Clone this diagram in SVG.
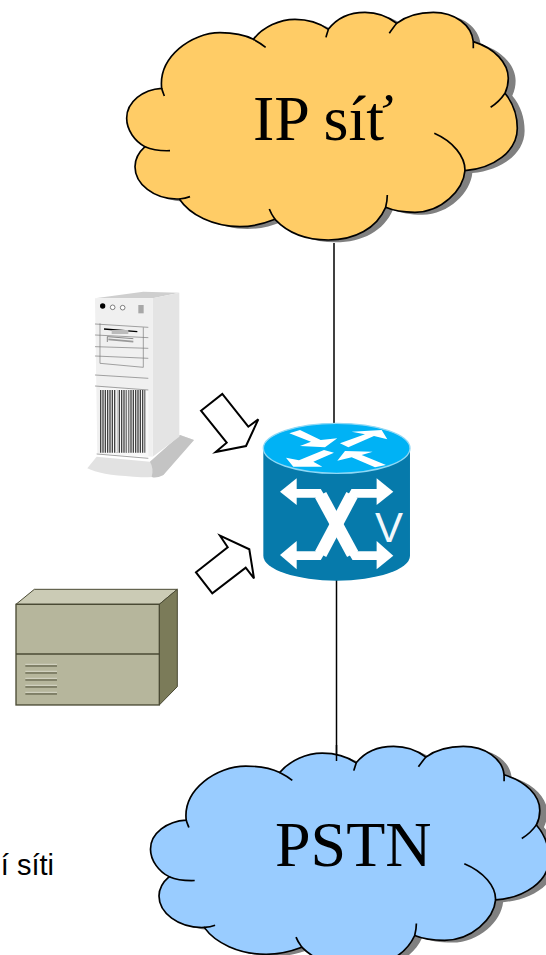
<svg xmlns="http://www.w3.org/2000/svg" xmlns:xlink="http://www.w3.org/1999/xlink" width="546" height="955" viewBox="0 0 546 955">
<style>
.serif{font-family:"Liberation Serif","Times New Roman",serif;font-size:64px;fill:#000}
.sans{font-family:"Liberation Sans",Arial,sans-serif}
.ln{stroke:#000;stroke-width:1.5;fill:none}
.out{stroke:#000;stroke-width:5;fill:none;stroke-linejoin:round}
.arrow{fill:#fff;stroke:#000;stroke-width:2;stroke-linejoin:miter}
.vent{stroke:#4d4d36;stroke-width:3}
.ventl{stroke:#e8e8dc;stroke-width:2}
.srv{stroke:#777;stroke-width:2;fill:none}
</style>
<defs>
<path id="cloudshape" d="M125,265C115,170 215,98 300,98C340,98 375,105 400,118C430,80 480,58 525,58C565,58 600,70 625,88C650,55 690,37 735,37C770,37 805,50 830,70C860,47 900,37 940,37C1005,37 1055,75 1060,125C1125,145 1165,190 1165,235C1165,250 1162,265 1155,280C1180,310 1192,345 1192,385C1192,455 1120,505 1035,512C1030,570 965,637 885,637C850,637 820,632 797,622C770,685 705,720 625,720C555,720 500,695 465,658C430,672 395,680 360,680C280,680 210,645 178,597C100,600 45,550 45,500C45,478 55,458 75,440C45,425 20,390 20,355C20,305 70,268 125,265Z"/>
<path id="hooks" d="M125,265C127,273 130,280 133,288M400,118C413,125 426,133 437,142M625,88C623,96 620,104 618,112M830,70C822,80 815,90 808,100M1060,125L1060,145M1155,280C1143,298 1128,312 1112,322M1035,512C1036,470 1000,425 943,400M797,622C800,610 802,598 802,585M465,658C458,648 452,638 448,627M178,597C190,596 200,594 210,590M75,440C97,450 122,453 150,452"/>
</defs>
<g id="connectors">
<line class="ln" x1="334" y1="243" x2="334" y2="424"/>
<line class="ln" x1="336.500" y1="580" x2="336.500" y2="761"/>
</g>
<g id="cloud-ip">
<g transform="translate(120,0) scale(0.3333)">
<use xlink:href="#cloudshape" href="#cloudshape" fill="#808080" transform="translate(22,7)"/>
<use xlink:href="#cloudshape" href="#cloudshape" fill="#ffcc66" stroke="#000" stroke-width="5"/>
<use xlink:href="#hooks" href="#hooks" class="out"/>
</g>
<text class="serif" x="253" y="140">IP síť</text>
</g>
<g id="cloud-pstn">
<g transform="matrix(0.34 0 0 0.3233 143.700 734.400)">
<use xlink:href="#cloudshape" href="#cloudshape" fill="#808080" transform="translate(22,7)"/>
<use xlink:href="#cloudshape" href="#cloudshape" fill="#99ccff" stroke="#000" stroke-width="5"/>
<use xlink:href="#hooks" href="#hooks" class="out"/>
</g>
<line class="ln" x1="336.500" y1="745" x2="336.500" y2="761"/>
<text class="serif" x="275" y="866">PSTN</text>
</g>
<g id="server" transform="translate(80,280) scale(0.3333)">
<path d="M22,565L50,530L210,545L300,465L342,480L250,585Q235,595 160,590Q60,585 22,565Z" fill="#e2e2e2"/>
<path d="M210,545L300,465L342,480L250,585Q225,597 215,590Q222,565 210,545Z" fill="#c4c4c4"/>
<path d="M45,55L190,35L298,38L218,55Z" fill="#cfcfcf"/>
<path d="M218,55L298,38L298,470L218,530Z" fill="#e4e4e4"/>
<path d="M45,55L218,55L218,530L52,520Z" fill="#f0f0f0"/>
<path d="M60,322L205,330L205,530L60,518Z" fill="#f8f8f8"/>
<line x1="60" y1="424" x2="196" y2="424" stroke="#444" stroke-width="188" stroke-dasharray="4,3"/>
<rect x="108" y="328" width="5" height="190" fill="#eee"/>
<rect x="140" y="328" width="5" height="190" fill="#eee"/>
<path class="srv" d="M45,318L205,330M45,285L205,295M45,132L205,142M45,165L205,173M45,200L205,205M45,228L205,235M60,130V250L190,262V142M50,522L205,535"/>
<circle cx="68" cy="78" r="8" fill="#000"/>
<circle cx="98" cy="82" r="7" fill="#fff" stroke="#444" stroke-width="2"/>
<circle cx="128" cy="83" r="7" fill="#fff" stroke="#444" stroke-width="2"/>
<rect x="175" y="75" width="16" height="25" fill="#a8a8a8"/>
<path d="M72,147L172,155" stroke="#000" stroke-width="4"/>
<rect x="95" y="150" width="50" height="12" fill="#bbb"/>
<path d="M82,186V170L160,176" fill="none" stroke="#555" stroke-width="2"/>
<path d="M85,178L160,185" stroke="#999" stroke-width="5"/>
</g>
<g id="arrow-server">
<polygon class="arrow" points="201,410.700 222.300,394 248.300,426.700 258.300,419.300 246,446 215.700,452 226.700,442.700"/>
</g>
<g id="arrow-box">
<polygon class="arrow" points="196,572.300 227.700,547.300 220,535.700 249.300,549.300 254,578.300 245.700,567.700 212.300,593.300"/>
</g>
<g id="router" transform="translate(250,410) scale(0.3333)">
<path d="M40,115V437A220,75 0 0 0 480,437V115Z" fill="#067aab"/>
<ellipse cx="260" cy="115" rx="220" ry="75" fill="#00b2f5" stroke="#8fd8f5" stroke-width="4"/>
<g fill="#fff">
<polygon points="118,70 150,60 212,90 262,85 225,112 150,108 183,95"/>
<polygon points="270,100 345,73 305,65 395,60 412,88 372,78 295,112"/>
<polygon points="252,128 190,155 217,170 130,170 108,143 147,151 222,120"/>
<polygon points="262,152 285,123 368,125 335,135 408,165 375,172 305,142"/>
<polygon points="90,245 140,205 140,285"/>
<polygon points="430,245 380,205 380,285"/>
<polygon points="90,435 140,393 140,478"/>
<polygon points="430,437 380,393 380,478"/>
</g>
<g fill="none" stroke="#fff" stroke-width="26" stroke-linejoin="miter">
<polyline points="130,250 205,250 315,437 390,437"/>
<polyline points="390,250 312,250 205,437 130,437"/>
<line x1="212" y1="255" x2="308" y2="432" stroke-width="38"/>
<line x1="306" y1="255" x2="212" y2="432" stroke-width="38"/>
</g>
<text class="sans" x="375" y="395" font-size="126" fill="#f2f8fb">V</text>
</g>
<g id="box" transform="translate(0,530) scale(0.3333)">
<polygon points="48,223 103,178 532,178 478,223" fill="#cbcbb5" stroke="#4a4a34" stroke-width="3"/>
<polygon points="478,223 532,178 532,470 478,525" fill="#7b7b59" stroke="#4a4a34" stroke-width="3"/>
<rect x="48" y="223" width="430" height="302" fill="#b6b69c" stroke="#4a4a34" stroke-width="4"/>
<line x1="48" y1="372" x2="478" y2="372" stroke="#4a4a34" stroke-width="5"/>
<path class="ventl" d="M76,403H171M76,424H171M76,445H171M76,466H171M76,487H171"/>
<path class="vent" d="M76,408H171M76,429H171M76,450H171M76,471H171M76,492H171"/>
</g>
<text class="sans" x="54" y="875" font-size="29" text-anchor="end" fill="#000">í síti</text>
</svg>
